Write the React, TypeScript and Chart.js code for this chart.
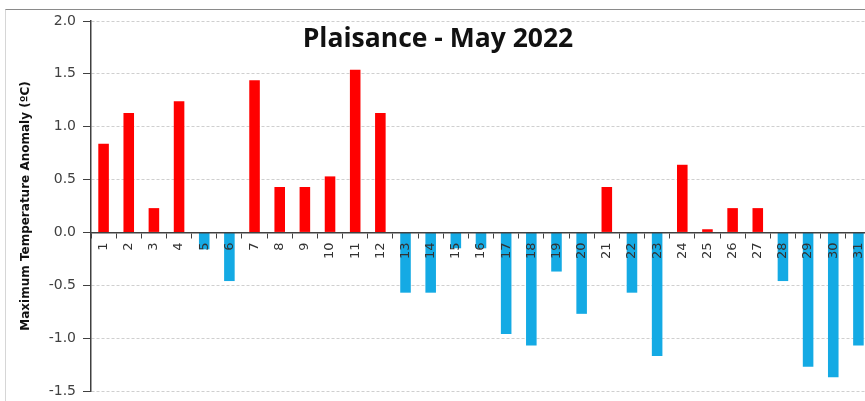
import React, { useEffect, useRef } from "react";
import { Chart, registerables } from "chart.js";

Chart.register(...registerables);

const TITLE = "Plaisance - May 2022";
const Y_TITLE = "Maximum Temperature Anomaly (ºC)";
const days = Array.from({ length: 31 }, (_, i) => String(i + 1));
const anomalies = [
  0.84, 1.13, 0.23, 1.24, -0.16, -0.46, 1.44, 0.43, 0.43, 0.53, 1.54, 1.13,
  -0.57, -0.57, -0.15, -0.15, -0.96, -1.07, -0.37, -0.77, 0.43, -0.57, -1.17,
  0.64, 0.03, 0.23, 0.23, -0.46, -1.27, -1.37, -1.07,
];
const yMin = -1.5;
const yMax = 2.0;
const yStep = 0.5;

const WARM = "#FF0000";
const COOL = "#14AAE4";

const titlePlugin = {
  id: "insideTitle",
  afterDraw(chart: any) {
    const ctx = chart.ctx;
    ctx.save();
    ctx.font = "bold 26.5px 'Open Sans'";
    ctx.fillStyle = "#111";
    ctx.textAlign = "center";
    ctx.textBaseline = "alphabetic";
    ctx.fillText(TITLE, 438, 47);
    ctx.restore();
  },
};

export default function App() {
  const ref = useRef<HTMLCanvasElement | null>(null);

  useEffect(() => {
    if (!ref.current) return;
    const chart = new Chart(ref.current, {
      type: "bar",
      data: {
        labels: days,
        datasets: [
          {
            data: anomalies,
            backgroundColor: anomalies.map((v) => (v >= 0 ? WARM : COOL)),
            borderWidth: 0,
            categoryPercentage: 1,
            barPercentage: 0.42,
          },
        ],
      },
      options: {
        animation: false,
        responsive: false,
        layout: { padding: { left: 0, top: 21, right: 0, bottom: 10 } },
        plugins: {
          legend: { display: false },
          tooltip: { enabled: false },
          title: { display: false },
        },
        scales: {
          x: {
            position: { y: 0 },
            afterFit(scale: any) {
              scale.height = 0;
              scale.paddingLeft = 0;
              scale.paddingRight = 0;
              scale.paddingTop = 0;
              scale.paddingBottom = 0;
            },
            grid: {
              display: true,
              drawOnChartArea: false,
              drawTicks: true,
              tickLength: 5,
              tickColor: "#404040",
              tickBorderDash: [],
              z: 1,
            },
            border: { display: true, color: "#404040", width: 1.5, z: 1 },
            ticks: {
              z: 1,
              autoSkip: false,
              minRotation: 90,
              maxRotation: 90,
              padding: 5,
              color: "#333",
              font: { family: "DejaVu Sans", size: 13 },
            },
          },
          y: {
            min: yMin,
            max: yMax,
            afterFit(scale: any) {
              scale.width = 91;
              scale.paddingTop = 0;
              scale.paddingBottom = 0;
            },
            grid: {
              color: "#cfcfcf",
              tickColor: "#404040",
              tickLength: 8,
              tickBorderDash: [],
            },
            border: { display: true, color: "#404040", width: 1.5, dash: [3, 2] },
            ticks: {
              stepSize: yStep,
              padding: 7,
              color: "#404040",
              font: { family: "DejaVu Sans", size: 14 },
              callback: (v: any) => Number(v).toFixed(1),
            },
            title: {
              display: true,
              text: Y_TITLE,
              color: "#111",
              font: { family: "DejaVu Sans", size: 12, weight: "bold" },
              padding: { top: 19, bottom: 0 },
            },
          },
        },
      },
      plugins: [titlePlugin],
    });
    return () => chart.destroy();
  }, []);

  return (
    <div
      style={{
        position: "fixed",
        left: 0,
        top: 0,
        width: 865,
        height: 401,
        background: "#fff",
        overflow: "hidden",
      }}
    >
      <div
        style={{
          position: "absolute",
          left: 5,
          top: 9,
          right: 0,
          bottom: 0,
          borderTop: "1px solid #8a8a8a",
          borderLeft: "1px solid #d6d6d6",
        }}
      />
      <canvas ref={ref} width={871} height={401} style={{ position: "absolute", left: 0, top: 0 }} />
    </div>
  );
}
